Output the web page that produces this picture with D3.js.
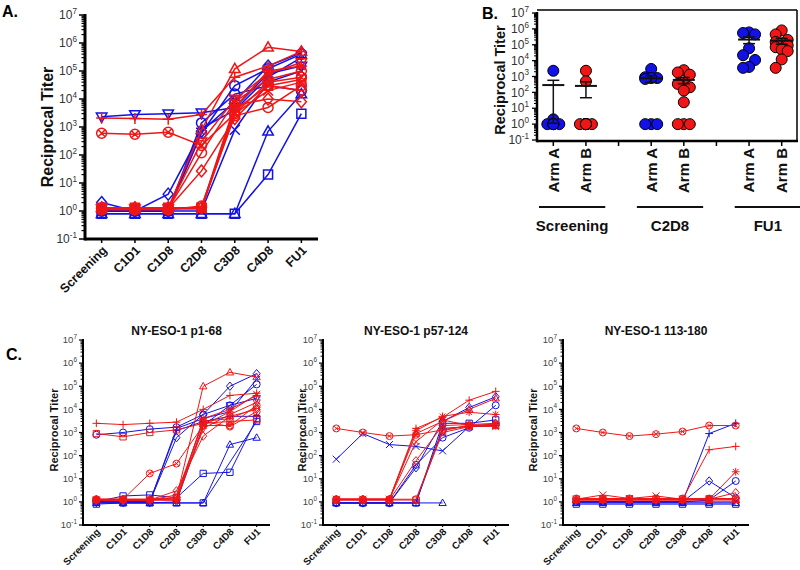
<!DOCTYPE html>
<html><head><meta charset="utf-8">
<script src="https://cdn.jsdelivr.net/npm/d3@7"></script>
<style>body{margin:0;background:#fff}svg{font-family:Arial,"Liberation Sans",sans-serif}</style>
</head><body><svg id="c" width="800" height="570"></svg>
<script>
// ---------------- DATA ----------------
const timepoints = ["Screening","C1D1","C1D8","C2D8","C3D8","C4D8","FU1"];
const yExponents = [-1,0,1,2,3,4,5,6,7];

// Panel A – Arm A (blue) and Arm B (red) subjects
const panelA_markersA = ["triangleDown","diamond","circle","cross","square","triangle","plus","circle"];
const panelA_armA = [
  [2300, 2800, 3000, 3200, 5000, 80000, 150000],
  [2, 1, 4, 700, 8000, 150000, 450000],
  [1, 1, 1, 600, 30000, 120000, 400000],
  [1, 1, 1, 1, 800, 40000, 100000],
  [0.8, 0.8, 0.8, 0.8, 0.8, 20, 3000],
  [0.8, 0.8, 0.8, 0.8, 0.8, 700, 15000],
  [1, 1, 1, 900, 4000, 60000, 300000],
  [1, 1, 1, 1400, 15000, 30000, 20000]
];
const panelA_markersB = ["circleX","plus","diamond","triangle","circle","square","asterisk","cross","diamond","triangleDown","circle"];
const panelA_armB = [
  [600, 550, 650, 220, 3000, 40000, 60000],
  [2100, 2000, 1900, 2800, 60000, 150000, 500000],
  [1.2, 1.2, 1.2, 27, 2000, 30000, 20000],
  [1.3, 1.3, 1.3, 800, 120000, 700000, 500000],
  [1.2, 1.2, 1.2, 120, 8000, 50000, 100000],
  [1.3, 1.3, 1.3, 1.3, 4000, 30000, 50000],
  [1.2, 1.2, 1.2, 1.2, 5000, 100000, 150000],
  [1.2, 1.2, 1.2, 1.2, 3000, 20000, 40000],
  [1.3, 1.3, 1.3, 1.3, 6000, 10000, 8000],
  [1.2, 1.2, 1.2, 300, 10000, 80000, 200000],
  [1.1, 1.1, 1.1, 1.5, 2500, 5000, 30000]
];

// Panel B – scatter with mean ± SEM
const panelB_slotLabels = ["Arm A","Arm B","","Arm A","Arm B","","Arm A","Arm B"];
const panelB_groups = ["Screening","C2D8","FU1"];
const panelB_screeningA = [2300, 2, 1, 1, 1, 1, 1, 1];
const panelB_screeningB = [2300, 500, 1, 1, 1, 1, 1, 1, 1, 1, 1];
const panelB_c2d8A = [3000, 900, 800, 800, 700, 1, 1, 1];
const panelB_c2d8B = [2500, 1800, 1300, 420, 340, 210, 130, 24, 1, 1, 1];
const panelB_fu1A = [600000, 550000, 450000, 60000, 22000, 11000, 4000, 3500];
const panelB_fu1B = [800000, 450000, 200000, 150000, 120000, 90000, 70000, 50000, 40000, 12000, 3500];

// Panel C titles
const panelC_titles = ["NY-ESO-1 p1-68","NY-ESO-1 p57-124","NY-ESO-1 113-180"];

// Panel C1 (p1-68)
const c1_markersA = ["circle","diamond","square","triangle","square","cross","plus","triangleDown"];
const c1_armA = [
  [800, 1000, 1400, 1700, 6000, 15000, 120000],
  [1, 1, 1, 600, 6000, 100000, 350000],
  [1, 1.8, 2, 1.5, 17, 19, 4000],
  [0.9, 0.9, 0.9, 0.9, 0.9, 300, 600],
  [0.8, 0.9, 0.9, 0.9, 0.9, null, 3000],
  [1, 1, 1, 1500, 4000, 8000, 200000],
  [1, 1, 1, 1200, 3000, 5000, 5000],
  [0.9, 0.9, 0.9, 1, 2000, 15000, 30000]
];
const c1_markersB = ["plus","square","triangle","circleX","diamond","circle","asterisk","cross","triangleDown","diamond"];
const c1_armB = [
  [2500, 2200, 2500, 2800, 10000, 40000, 50000],
  [900, 650, 1000, 1300, 2500, 3000, 3500],
  [1.3, 1.3, 1.3, 1.5, 100000, 400000, 250000],
  [1.3, 1.3, 17, 45, 2000, 2000, 15000],
  [1.2, 1.2, 1.2, 3, 700, 5000, 10000],
  [1.2, 1.2, 1.2, 1.5, 3000, 1800, 8000],
  [1.3, 1.3, 1.3, 1.2, 4000, 10000, 40000],
  [1.2, 1.2, 1.2, 1.2, 2000, 8000, 45000],
  [1.2, 1.2, 1.2, 1.2, 1500, 6000, 20000],
  [1.2, 1.2, 1.2, 2, 3000, 4000, 12000]
];

// Panel C2 (p57-124)
const c2_markersA = ["cross","circle","diamond","triangle","square","plus"];
const c2_armA = [
  [70, 900, 300, 250, 160, 1800, 2000],
  [0.9, 0.9, 0.9, 40, 600, 1600, 15000],
  [0.9, 0.9, 0.9, 30, 3000, 12000, 35000],
  [0.9, 0.9, 0.9, 0.9, 0.9, null, null],
  [0.9, 0.9, 0.9, 0.9, 2500, 2500, 3500],
  [0.9, 0.9, 0.9, 0.9, 1500, 1800, 2000]
];
const c2_markersB = ["circleX","plus","asterisk","circle","triangle","diamond","square","cross"];
const c2_armB = [
  [1500, 1000, 700, 800, 1300, 2000, 2300],
  [1.3, 1.3, 1.3, 1500, 4500, 25000, 60000],
  [1.3, 1.3, 1.3, 1200, 5000, 7500, 6000],
  [1.3, 1.3, 1.3, 1.3, 1200, 2000, 2200],
  [1.3, 1.3, 1.3, 900, 3000, 10000, 30000],
  [1.2, 1.2, 1.2, 60, 2000, 2200, 2500],
  [1.2, 1.2, 1.2, 1.2, 1000, 1800, 2000],
  [1.3, 1.3, 1.3, 400, 3500, 2000, 1800]
];

// Panel C3 (113-180)
const c3_markersA = ["plus","diamond","circle","square","triangle","cross"];
const c3_armA = [
  [1, 1, 1, 1, 1, 900, 2500],
  [1, 1, 1, 1, 1, 8, 1.5],
  [1, 1, 1, 1, 1, 1.2, 8],
  [0.8, 0.8, 0.8, 0.8, 0.8, 0.8, 0.8],
  [0.9, 0.9, 0.9, 0.9, 0.9, 0.9, 0.9],
  [1, 1, 1, 1, 1, 1, 1]
];
const c3_markersB = ["circleX","plus","asterisk","diamond","cross","square","circle","triangle"];
const c3_armB = [
  [1500, 1000, 700, 850, 1100, 2000, 2000],
  [1.3, 1.3, 1.3, 1.3, 1.3, 180, 250],
  [1.3, 1.3, 1.3, 1.3, 1.3, 1.3, 20],
  [1.2, 1.2, 1.2, 1.2, 1.2, 1.3, 2.5],
  [1.3, 2, 1.4, 1.8, 1.3, 1.4, 1.3],
  [1.3, 1.3, 1.3, 1.3, 1.3, 1.3, 1.3],
  [1.4, 1.4, 1.4, 1.4, 1.4, 1.4, 1.4],
  [1.2, 1.2, 1.2, 1.2, 1.2, 1.2, 1.2]
];

// ---------------- DRAWING ----------------
const svg = d3.select("#c");
const BLUE = "#1212e8", RED = "#f01616";

function markerPath(type, s) {
  const p = d3.path();
  const circ = r => { p.moveTo(r, 0); p.arc(0, 0, r, 0, 2 * Math.PI); };
  const x = r => { p.moveTo(-r, -r); p.lineTo(r, r); p.moveTo(-r, r); p.lineTo(r, -r); };
  const pl = r => { p.moveTo(-r, 0); p.lineTo(r, 0); p.moveTo(0, -r); p.lineTo(0, r); };
  switch (type) {
    case "circle": circ(s); break;
    case "square": p.rect(-s * 0.9, -s * 0.9, s * 1.8, s * 1.8); break;
    case "triangle": p.moveTo(0, -s * 1.1); p.lineTo(s * 1.05, s * 0.75); p.lineTo(-s * 1.05, s * 0.75); p.closePath(); break;
    case "triangleDown": p.moveTo(0, s * 1.1); p.lineTo(s * 1.05, -s * 0.75); p.lineTo(-s * 1.05, -s * 0.75); p.closePath(); break;
    case "diamond": p.moveTo(0, -s * 1.2); p.lineTo(s, 0); p.lineTo(0, s * 1.2); p.lineTo(-s, 0); p.closePath(); break;
    case "cross": x(s); break;
    case "plus": pl(s * 1.1); break;
    case "asterisk": pl(s * 1.1); x(s * 0.8); break;
    case "circleX": circ(s); x(s * 0.65); break;
  }
  return p.toString();
}

function expLabel(g, xPos, yPos, e, fs, fill) {
  const t = g.append("text").attr("x", xPos).attr("y", yPos + fs * 0.35)
    .attr("text-anchor", "end").attr("font-size", fs).attr("fill", fill);
  t.append("tspan").text("10");
  t.append("tspan").attr("dy", -fs * 0.45).attr("font-size", fs * 0.68).text(String(e));
}

function logYAxis(g, y, ax, o) {
  yExponents.forEach(e => {
    const yy = y(Math.pow(10, e));
    g.append("line").attr("x1", ax - o.major).attr("x2", ax).attr("y1", yy).attr("y2", yy)
      .attr("stroke", "#000").attr("stroke-width", o.tw);
    expLabel(g, ax - o.major - o.gap, yy, e, o.tfs, o.tfill);
    if (e < 7) {
      for (let m = 2; m <= 9; m++) {
        const ym = y(m * Math.pow(10, e));
        g.append("line").attr("x1", ax - o.minor).attr("x2", ax).attr("y1", ym).attr("y2", ym)
          .attr("stroke", "#000").attr("stroke-width", o.tw * 0.8);
      }
    }
  });
  g.append("line").attr("x1", ax).attr("x2", ax).attr("y1", y(1e7) - 1).attr("y2", o.axisY + o.aw / 2)
    .attr("stroke", "#000").attr("stroke-width", o.aw);
}

function linePanel(o) {
  const g = svg.append("g");
  const x = d3.scalePoint().domain(timepoints).range([o.x0, o.x1]).padding(0.5);
  const y = d3.scaleLog().domain([0.1, 1e7]).range([o.yb, o.yt]);
  const line = d3.line().x(d => x(d.t)).y(d => y(d.v));
  o.series.forEach(s => {
    s.rows.forEach((row, i) => {
      const pts = row.map((v, j) => ({ t: timepoints[j], v })).filter(d => d.v != null);
      g.append("path").attr("d", line(pts)).attr("fill", "none")
        .attr("stroke", s.color).attr("stroke-width", o.lw);
      g.selectAll(null).data(pts).join("path")
        .attr("transform", d => `translate(${x(d.t)},${y(d.v)})`)
        .attr("d", markerPath(s.markers[i], o.ms))
        .attr("fill", "none").attr("stroke", s.color).attr("stroke-width", o.mw);
    });
  });
  const axisY = o.yb;
  logYAxis(g, y, o.x0, { major: o.major, minor: o.minor, gap: o.gap, tw: o.tw, tfs: o.tfs, tfill: o.tfill, aw: o.aw, axisY });
  g.append("line").attr("x1", o.x0).attr("x2", o.x1).attr("y1", axisY).attr("y2", axisY)
    .attr("stroke", "#000").attr("stroke-width", o.aw);
  timepoints.forEach(t => {
    g.append("line").attr("x1", x(t)).attr("x2", x(t)).attr("y1", axisY).attr("y2", axisY + o.xtick)
      .attr("stroke", "#000").attr("stroke-width", o.tw);
    g.append("text").attr("transform", `translate(${x(t) + o.xlOff},${axisY + o.xtick + o.xlOff + o.xlDown}) rotate(-45)`)
      .attr("text-anchor", "end").attr("dy", "0.35em").attr("font-size", o.xfs).attr("font-weight", "bold")
      .attr("fill", "#111").text(t);
  });
  g.append("text").attr("transform", `translate(${o.ylx},${o.ylc || (o.yb + o.yt) / 2}) rotate(-90)`)
    .attr("text-anchor", "middle").attr("font-size", o.yfs).attr("font-weight", "bold").attr("fill", "#111")
    .text("Reciprocal Titer");
  if (o.title) {
    g.append("text").attr("x", (o.x0 + o.x1) / 2).attr("y", o.titleY).attr("text-anchor", "middle")
      .attr("font-size", 12).attr("font-weight", "bold").attr("fill", "#111").text(o.title);
  }
}

// Panel A
linePanel({
  x0: 85, x1: 318, yb: 239, yt: 15, lw: 1.5, mw: 1.5, ms: 5,
  major: 6, minor: 3.5, gap: 2, tw: 1.5, tfs: 12, tfill: "#333", aw: 3,
  xtick: 4, xlOff: 3, xlDown: 2, xfs: 12.5, ylx: 53, yfs: 16,
  series: [
    { rows: panelA_armA, markers: panelA_markersA, color: BLUE },
    { rows: panelA_armB, markers: panelA_markersB, color: RED }
  ]
});
svg.append("text").attr("x", 2).attr("y", 17).attr("font-size", 16).attr("font-weight", "bold").text("A.");

// Panel C subplots
const cCommon = { yb: 525, yt: 340, lw: 1, mw: 1, ms: 3.5, major: 4, minor: 2.5, gap: 2, tw: 1.2,
  tfs: 9.5, tfill: "#444", aw: 2, xtick: 2, xlOff: 2, xlDown: 1, xfs: 9.8, yfs: 11, titleY: 335, ylc: 430 };
linePanel(Object.assign({}, cCommon, { x0: 83, x1: 270, ylx: 58, title: panelC_titles[0],
  series: [{ rows: c1_armA, markers: c1_markersA, color: BLUE }, { rows: c1_armB, markers: c1_markersB, color: RED }] }));
linePanel(Object.assign({}, cCommon, { x0: 323, x1: 509, ylx: 306, title: panelC_titles[1],
  series: [{ rows: c2_armA, markers: c2_markersA, color: BLUE }, { rows: c2_armB, markers: c2_markersB, color: RED }] }));
linePanel(Object.assign({}, cCommon, { x0: 563, x1: 749, ylx: 537, title: panelC_titles[2],
  series: [{ rows: c3_armA, markers: c3_markersA, color: BLUE }, { rows: c3_armB, markers: c3_markersB, color: RED }] }));
svg.append("text").attr("x", 6).attr("y", 360).attr("font-size", 16).attr("font-weight", "bold").text("C.");

// Panel B
(function () {
  const g = svg.append("g");
  const X0 = 537, X1 = 798, YB = 140, YT = 13, AXY = 141;
  const x = d3.scaleBand().domain(d3.range(panelB_slotLabels.length)).range([X0, X1]);
  const cx = i => x(i) + x.bandwidth() / 2;
  const y = d3.scaleLog().domain([0.1, 1e7]).range([YB, YT]);
  const sets = [
    { slot: 0, vals: panelB_screeningA, color: BLUE }, { slot: 1, vals: panelB_screeningB, color: RED },
    { slot: 3, vals: panelB_c2d8A, color: BLUE }, { slot: 4, vals: panelB_c2d8B, color: RED },
    { slot: 6, vals: panelB_fu1A, color: BLUE }, { slot: 7, vals: panelB_fu1B, color: RED }
  ];
  const R = 5.5;
  function swarm(vals) {
    const pts = vals.map(v => ({ v, y: y(v) })).sort((a, b) => a.y - b.y);
    const placed = [];
    const cands = [0, -6, 6];
    pts.forEach(p => {
      let best = 0, bestD = -1;
      for (const c of cands) {
        let md = Infinity;
        placed.forEach(q => { const d = Math.hypot(q.dx - c, q.y - p.y); if (d < md) md = d; });
        if (md >= 9) { best = c; break; }
        if (md > bestD) { bestD = md; best = c; }
      }
      p.dx = best; placed.push(p);
    });
    return pts;
  }
  // frame
  g.append("line").attr("x1", X0).attr("x2", X1 - 1).attr("y1", 10).attr("y2", 10).attr("stroke", "#000").attr("stroke-width", 1.5);
  g.append("line").attr("x1", X1 - 1).attr("x2", X1 - 1).attr("y1", 10).attr("y2", AXY).attr("stroke", "#000").attr("stroke-width", 1.5);
  sets.forEach(s => {
    const pts = swarm(s.vals);
    g.selectAll(null).data(pts).join("circle")
      .attr("cx", d => cx(s.slot) + d.dx).attr("cy", d => d.y).attr("r", R)
      .attr("fill", s.color).attr("stroke", "#000").attr("stroke-width", 1);
    const m = d3.mean(s.vals), sem = d3.deviation(s.vals) / Math.sqrt(s.vals.length);
    const lo = Math.max(m - sem, 0.1), hi = m + sem;
    const c = cx(s.slot);
    g.append("line").attr("x1", c).attr("x2", c).attr("y1", y(hi)).attr("y2", y(lo)).attr("stroke", "#111").attr("stroke-width", 1.5);
    g.append("line").attr("x1", c - 6).attr("x2", c + 6).attr("y1", y(hi)).attr("y2", y(hi)).attr("stroke", "#111").attr("stroke-width", 1.5);
    if (m - sem > 0.1) g.append("line").attr("x1", c - 6).attr("x2", c + 6).attr("y1", y(lo)).attr("y2", y(lo)).attr("stroke", "#111").attr("stroke-width", 1.5);
    g.append("line").attr("x1", c - 11).attr("x2", c + 11).attr("y1", y(m)).attr("y2", y(m)).attr("stroke", "#111").attr("stroke-width", 2);
  });
  logYAxis(g, y, X0, { major: 5, minor: 3, gap: 3, tw: 1.3, tfs: 12, tfill: "#333", aw: 2.5, axisY: AXY });
  g.append("line").attr("x1", X0).attr("x2", X1).attr("y1", AXY).attr("y2", AXY).attr("stroke", "#000").attr("stroke-width", 2.5);
  panelB_slotLabels.forEach((lab, i) => {
    g.append("line").attr("x1", cx(i)).attr("x2", cx(i)).attr("y1", AXY).attr("y2", AXY + 5).attr("stroke", "#000").attr("stroke-width", 1.5);
    if (lab) g.append("text").attr("transform", `translate(${cx(i)},${AXY + 7}) rotate(-90)`)
      .attr("text-anchor", "end").attr("dy", "0.36em").attr("font-size", 15).attr("font-weight", "bold").attr("fill", "#111").text(lab);
  });
  panelB_groups.forEach((grp, k) => {
    const a = k * 3, b = k * 3 + 1;
    const xa = x(a) + 2, xb = x(b) + x.bandwidth() + 3;
    g.append("line").attr("x1", xa).attr("x2", xb).attr("y1", 207).attr("y2", 207).attr("stroke", "#111").attr("stroke-width", 2);
    g.append("text").attr("x", (xa + xb) / 2).attr("y", 231).attr("text-anchor", "middle")
      .attr("font-size", 15).attr("font-weight", "bold").attr("fill", "#111").text(grp);
  });
  g.append("text").attr("transform", `translate(505,80) rotate(-90)`)
    .attr("text-anchor", "middle").attr("font-size", 14.5).attr("font-weight", "bold").attr("fill", "#111").text("Reciprocal Titer");
  svg.append("text").attr("x", 482).attr("y", 19).attr("font-size", 16).attr("font-weight", "bold").text("B.");
})();
</script></body></html>
